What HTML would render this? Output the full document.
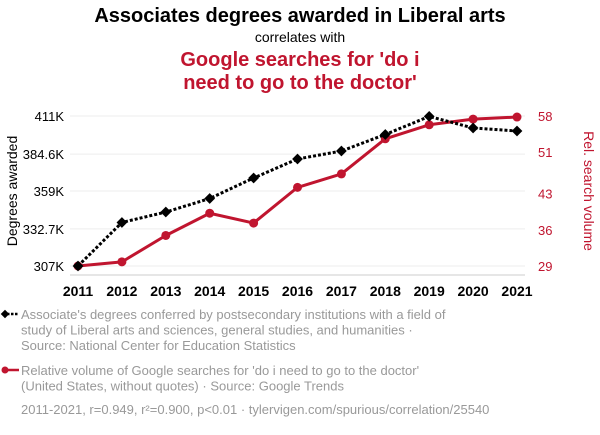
<!DOCTYPE html>
<html><head><meta charset="utf-8"><style>
body{margin:0;background:#fff;width:600px;height:430px;overflow:hidden;font-family:"Liberation Sans",sans-serif}
</style></head><body>
<svg id="chart" width="600" height="430" xmlns="http://www.w3.org/2000/svg" font-family="Liberation Sans, sans-serif">
<text x="300" y="22" text-anchor="middle" font-size="20" font-weight="bold" fill="#000">Associates degrees awarded in Liberal arts</text>
<text x="300" y="42" text-anchor="middle" font-size="14" fill="#000">correlates with</text>
<text x="300" y="66" text-anchor="middle" font-size="20" font-weight="bold" fill="#c0152f">Google searches for 'do i</text>
<text x="300" y="89" text-anchor="middle" font-size="20" font-weight="bold" fill="#c0152f">need to go to the doctor'</text>
<g id="grid"></g><g id="axes"></g><g id="marks"></g>
<text transform="translate(17,191) rotate(-90)" text-anchor="middle" font-size="14" fill="#000">Degrees awarded</text>
<text transform="translate(584,191) rotate(90)" text-anchor="middle" font-size="14" fill="#c0152f">Rel. search volume</text>
<g>
<line x1="3" y1="314" x2="19" y2="314" stroke="#000" stroke-width="2.5" stroke-dasharray="2.5,1.5"/>
<rect x="2" y="311" width="6" height="6" transform="rotate(45 5 314)" fill="#000"/>
<text font-size="13" fill="#999"><tspan x="21" y="319">Associate's degrees conferred by postsecondary institutions with a field of</tspan><tspan x="21" y="334.5">study of Liberal arts and sciences, general studies, and humanities ·</tspan><tspan x="21" y="350">Source: National Center for Education Statistics</tspan></text>
</g>
<g>
<line x1="3" y1="370" x2="19" y2="370" stroke="#c0152f" stroke-width="2.5"/>
<circle cx="5" cy="370" r="3.5" fill="#c0152f"/>
<text font-size="13" fill="#999"><tspan x="21" y="375">Relative volume of Google searches for 'do i need to go to the doctor'</tspan><tspan x="21" y="390.5">(United States, without quotes) · Source: Google Trends</tspan></text>
</g>
<text x="21" y="414" font-size="13" fill="#999">2011-2021, r=0.949, r²=0.900, p&lt;0.01 · tylervigen.com/spurious/correlation/25540</text>
</svg>
<script>
const years=[2011,2012,2013,2014,2015,2016,2017,2018,2019,2020,2021];
const degrees=[307.0,337.2,344.4,353.8,368.0,381.2,386.7,398.2,410.7,402.7,400.6];
const searches=[29.0,29.8,34.9,39.2,37.3,44.2,46.8,53.6,56.3,57.4,57.8];
const leftTicks=[307,332.7,359,384.6,411];
const leftTickLabels=["307K","332.7K","359K","384.6K","411K"];
const rightTicks=[29,36,43,51,58];
const NS="http://www.w3.org/2000/svg";
function x(yr){return 78+(yr-2011)*(517-78)/10;}
function yL(v){return 266-(v-307)*150/104;}
function yR(v){return 266-(v-29)*150/29;}
function mk(tag,attrs,parent){const e=document.createElementNS(NS,tag);for(const k in attrs)e.setAttribute(k,attrs[k]);parent.appendChild(e);return e;}
const grid=document.getElementById('grid'),axes=document.getElementById('axes'),marks=document.getElementById('marks');
leftTicks.forEach((t,i)=>{
  const g=mk('line',{x1:70,x2:525,y1:yL(t),y2:yL(t),stroke:'#eee','stroke-width':1},grid);
  
  
  const l=mk('text',{x:64,y:yL(t)+5,'text-anchor':'end','font-size':13,fill:'#000'},axes);
  l.textContent=leftTickLabels[i];
  
  
});
rightTicks.forEach(t=>{
  const l=mk('text',{x:538,y:yR(t)+5,'font-size':13,fill:'#c0152f'},axes);
  l.textContent=t;
  
  
});
const ax=mk('line',{x1:70,x2:525,y1:275,y2:275,stroke:'#ccc','stroke-width':1},axes);


years.forEach(yr=>{
  const l=mk('text',{x:x(yr),y:296,'text-anchor':'middle','font-size':14,'font-weight':'bold',fill:'#000'},axes);
  l.textContent=yr;
  
  
});
const rp=mk('polyline',{points:years.map((yr,i)=>x(yr)+','+yR(searches[i])).join(' '),fill:'none',stroke:'#c0152f','stroke-width':3,'stroke-linejoin':'round'},marks);


years.forEach((yr,i)=>{
  const c=mk('circle',{cx:x(yr),cy:yR(searches[i]),r:4.5,fill:'#c0152f'},marks);
  
  
});
const bp=mk('polyline',{points:years.map((yr,i)=>x(yr)+','+yL(degrees[i])).join(' '),fill:'none',stroke:'#000','stroke-width':3,'stroke-dasharray':'3,2'},marks);


years.forEach((yr,i)=>{
  const cx=x(yr),cy=yL(degrees[i]);
  const d=mk('rect',{x:cx-3.8,y:cy-3.8,width:7.6,height:7.6,fill:'#000',transform:'rotate(45 '+cx+' '+cy+')'},marks);
  
  
});
</script>
</body></html>
